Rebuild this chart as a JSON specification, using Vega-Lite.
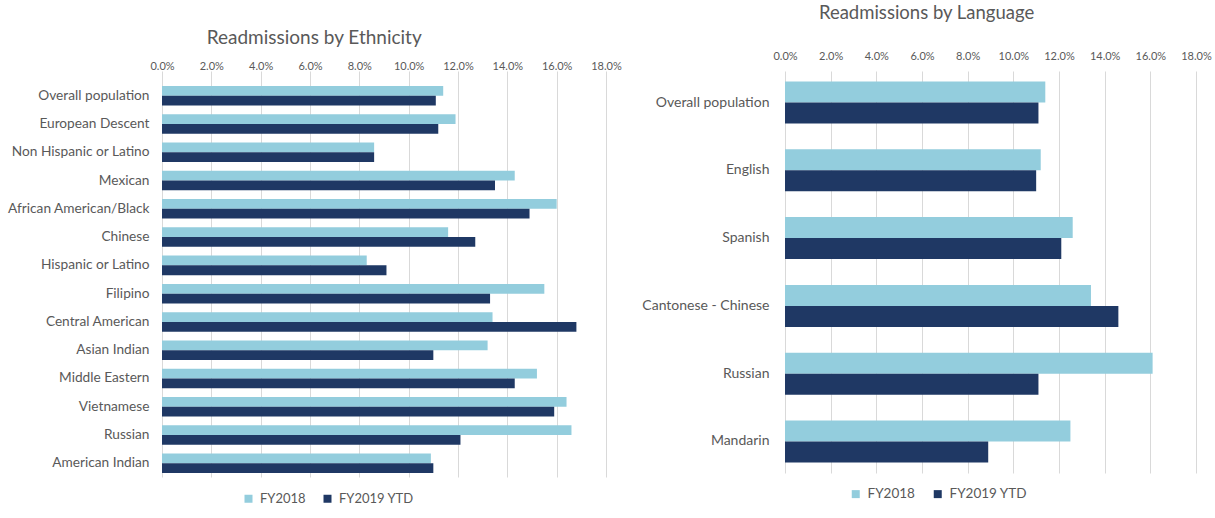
{
  "$schema": "https://vega.github.io/schema/vega-lite/v6.json",
  "background": "white",
  "padding": {"left": 7, "top": 3, "right": 5, "bottom": 5},
  "spacing": 19,
  "config": {
    "font": "Lato",
    "view": {"stroke": null},
    "title": {"fontWeight": "normal", "color": "#595959", "anchor": "middle", "frame": "bounds"},
    "axis": {"labelColor": "#595959", "domain": false, "ticks": false, "labelFont": "Lato", "labelFlush": false, "labelOverlap": false},
    "legend": {"labelColor": "#595959", "symbolType": "square", "symbolSize": 64, "orient": "none", "direction": "horizontal", "title": null, "labelOffset": 5, "symbolStrokeWidth": 0}
  },
  "datasets": {
    "eth": [
      {"group": "Overall population", "series": "FY2018", "rate": 0.114},
      {"group": "Overall population", "series": "FY2019 YTD", "rate": 0.111},
      {"group": "European Descent", "series": "FY2018", "rate": 0.119},
      {"group": "European Descent", "series": "FY2019 YTD", "rate": 0.112},
      {"group": "Non Hispanic or Latino", "series": "FY2018", "rate": 0.086},
      {"group": "Non Hispanic or Latino", "series": "FY2019 YTD", "rate": 0.086},
      {"group": "Mexican", "series": "FY2018", "rate": 0.143},
      {"group": "Mexican", "series": "FY2019 YTD", "rate": 0.135},
      {"group": "African American/Black", "series": "FY2018", "rate": 0.160},
      {"group": "African American/Black", "series": "FY2019 YTD", "rate": 0.149},
      {"group": "Chinese", "series": "FY2018", "rate": 0.116},
      {"group": "Chinese", "series": "FY2019 YTD", "rate": 0.127},
      {"group": "Hispanic or Latino", "series": "FY2018", "rate": 0.083},
      {"group": "Hispanic or Latino", "series": "FY2019 YTD", "rate": 0.091},
      {"group": "Filipino", "series": "FY2018", "rate": 0.155},
      {"group": "Filipino", "series": "FY2019 YTD", "rate": 0.133},
      {"group": "Central American", "series": "FY2018", "rate": 0.134},
      {"group": "Central American", "series": "FY2019 YTD", "rate": 0.168},
      {"group": "Asian Indian", "series": "FY2018", "rate": 0.132},
      {"group": "Asian Indian", "series": "FY2019 YTD", "rate": 0.110},
      {"group": "Middle Eastern", "series": "FY2018", "rate": 0.152},
      {"group": "Middle Eastern", "series": "FY2019 YTD", "rate": 0.143},
      {"group": "Vietnamese", "series": "FY2018", "rate": 0.164},
      {"group": "Vietnamese", "series": "FY2019 YTD", "rate": 0.159},
      {"group": "Russian", "series": "FY2018", "rate": 0.166},
      {"group": "Russian", "series": "FY2019 YTD", "rate": 0.121},
      {"group": "American Indian", "series": "FY2018", "rate": 0.109},
      {"group": "American Indian", "series": "FY2019 YTD", "rate": 0.110}
    ],
    "lang": [
      {"group": "Overall population", "series": "FY2018", "rate": 0.114},
      {"group": "Overall population", "series": "FY2019 YTD", "rate": 0.111},
      {"group": "English", "series": "FY2018", "rate": 0.112},
      {"group": "English", "series": "FY2019 YTD", "rate": 0.110},
      {"group": "Spanish", "series": "FY2018", "rate": 0.126},
      {"group": "Spanish", "series": "FY2019 YTD", "rate": 0.121},
      {"group": "Cantonese - Chinese", "series": "FY2018", "rate": 0.134},
      {"group": "Cantonese - Chinese", "series": "FY2019 YTD", "rate": 0.146},
      {"group": "Russian", "series": "FY2018", "rate": 0.161},
      {"group": "Russian", "series": "FY2019 YTD", "rate": 0.111},
      {"group": "Mandarin", "series": "FY2018", "rate": 0.125},
      {"group": "Mandarin", "series": "FY2019 YTD", "rate": 0.089}
    ]
  },
  "resolve": {"legend": {"color": "independent"}, "scale": {"y": "independent", "x": "independent", "yOffset": "independent"}},
  "hconcat": [
    {
      "data": {"name": "eth"},
      "title": {"text": "Readmissions by Ethnicity", "offset": 12, "fontSize": 19},
      "width": 444,
      "height": 406,
      "mark": {"type": "bar"},
      "encoding": {
        "y": {"field": "group", "type": "nominal", "sort": null, "title": null,
              "scale": {"paddingInner": 0.31, "paddingOuter": 0.336, "align": 0.79},
              "axis": {"labelFontSize": 13.7, "labelPadding": 13}},
        "yOffset": {"field": "series", "type": "nominal", "sort": ["FY2018", "FY2019 YTD"]},
        "x": {"field": "rate", "type": "quantitative", "title": null,
              "scale": {"domain": [0, 0.18], "nice": false},
              "axis": {"orient": "top", "offset": -10, "format": ".1%", "values": [0, 0.02, 0.04, 0.06, 0.08, 0.1, 0.12, 0.14, 0.16, 0.18], "labelFontSize": 11, "labelPadding": 10, "gridColor": "#D9D9D9"}},
        "color": {"field": "series", "type": "nominal",
                  "scale": {"domain": ["FY2018", "FY2019 YTD"], "range": ["#93CDDD", "#1F3864"]},
                  "legend": {"legendX": 80, "legendY": 421, "labelFontSize": 13, "columnPadding": 15}}
      }
    },
    {
      "data": {"name": "lang"},
      "title": {"text": "Readmissions by Language", "offset": 28, "fontSize": 18.5},
      "width": 411,
      "height": 402,
      "mark": {"type": "bar"},
      "encoding": {
        "y": {"field": "group", "type": "nominal", "sort": null, "title": null,
              "scale": {"paddingInner": 0.38, "paddingOuter": 0.155, "align": 0.5},
              "axis": {"labelFontSize": 14, "labelPadding": 16}},
        "yOffset": {"field": "series", "type": "nominal", "sort": ["FY2018", "FY2019 YTD"]},
        "x": {"field": "rate", "type": "quantitative", "title": null,
              "scale": {"domain": [0, 0.18], "nice": false},
              "axis": {"orient": "top", "format": ".1%", "values": [0, 0.02, 0.04, 0.06, 0.08, 0.1, 0.12, 0.14, 0.16, 0.18], "labelFontSize": 11, "labelPadding": 10, "gridColor": "#D9D9D9"}},
        "color": {"field": "series", "type": "nominal",
                  "scale": {"domain": ["FY2018", "FY2019 YTD"], "range": ["#93CDDD", "#1F3864"]},
                  "legend": {"legendX": 64, "legendY": 416, "labelFontSize": 13.5, "columnPadding": 16}}
      }
    }
  ]
}
